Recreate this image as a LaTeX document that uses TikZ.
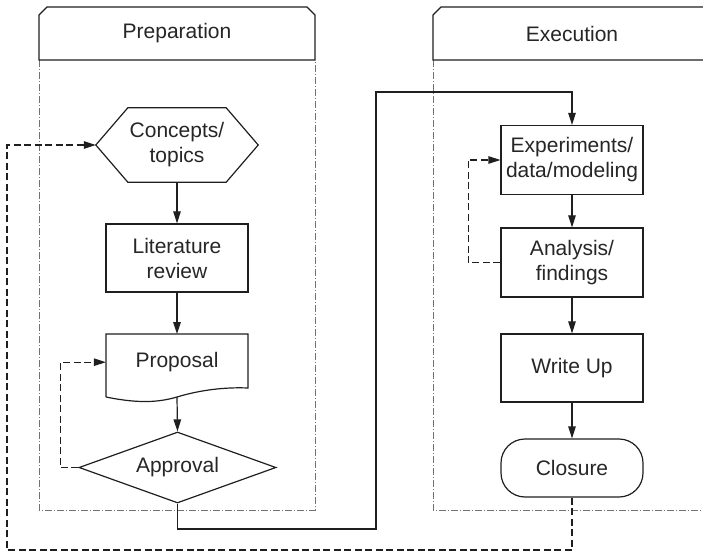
\documentclass[tikz,border=0pt]{standalone}
\usepackage{fontspec}
\setmainfont{Liberation Sans}
\usetikzlibrary{arrows.meta,shapes.geometric,calc}

\begin{document}
\begin{tikzpicture}[x=1pt,y=-1pt,
  ink/.style={draw=black!88, line width=1.2pt},
  txt/.style={font=\fontsize{21}{25}\selectfont, text=black!85, align=center, inner sep=0pt},
  procbox/.style={txt, ink, rectangle, minimum width=142pt, minimum height=68pt},
  flow/.style={draw=black!88, line width=1.2pt, -{Triangle[length=12pt,width=7.5pt]}},
  loop/.style={flow, dash pattern=on 7pt off 3.5pt},
  lane/.style={draw=black!55, line width=0.7pt, dash pattern=on 7pt off 2pt on 1pt off 2pt},
]
\useasboundingbox (0,0) rectangle (703,553);

% swimlanes
\draw[lane] (39,60) -- (39,510) -- (315,510) -- (315,60);
\draw[lane] (433,60) -- (433,510) -- (703,510);

% lane headers
\draw[ink, fill=white] (39,60) -- (39,15) -- (47,7) -- (307,7) -- (315,15) -- (315,60) -- cycle;
\node[txt] (prephead) at (177,33.5) {Preparation};
\fill[white] (433,60) -- (433,15) -- (441,7) -- (703,7) -- (703,60) -- cycle;
\draw[ink] (703,60) -- (433,60) -- (433,15) -- (441,7) -- (703,7);
\node[txt] (exechead) at (572,33.5) {Execution};

% preparation steps
\node[txt, minimum width=162pt, minimum height=74pt] (concepts) at (177,145) {Concepts/\\topics};
\draw[ink] (concepts.west) -- ([xshift=32pt]concepts.north west) -- ([xshift=-32pt]concepts.north east)
  -- (concepts.east) -- ([xshift=-32pt]concepts.south east) -- ([xshift=32pt]concepts.south west) -- cycle;

\node[procbox] (litrev) at (177,258) {Literature\\review};

\node[txt, minimum width=142pt, minimum height=56pt, anchor=north] (proposal) at (177,334) {Proposal};
\draw[ink] (106,397) -- (106,334) -- (248,334) -- (248,388)
  .. controls (225,387) and (200,390) .. (177,397)
  .. controls (160,402) and (140,404) .. (106,397);
\coordinate (propbot) at (177,397);

\node[txt, ink, diamond, aspect=2.8, minimum width=197pt, minimum height=71pt] (approval) at (177.5,467.5) {Approval};

% execution steps
\node[procbox, minimum height=69pt] (experiments) at (572,160) {Experiments/\\data/modeling};
\node[procbox, minimum height=69pt] (analysis) at (572,262.5) {Analysis/\\findings};
\node[procbox] (writeup) at (572,368) {Write Up};
\node[txt, ink, rectangle, rounded corners=24pt, minimum width=142pt, minimum height=58pt] (closure) at (572,468) {Closure};

% main flow
\draw[flow] (concepts.south) -- (litrev.north);
\draw[flow] (litrev.south) -- (proposal.north);
\draw[flow] (propbot) -- (approval.north);
\coordinate (hop1) at (376,529);
\coordinate (hop2) at (376,92);
\draw[flow] (approval.south) |- (hop1) -- (hop2) -| (experiments.north);
\draw[flow] (experiments.south) -- (analysis.north);
\draw[flow] (analysis.south) -- (writeup.north);
\draw[flow] (writeup.south) -- (closure.north);

% feedback loops
\draw[loop] (approval.west) -- ++(-18,0) |- (proposal.west);
\draw[loop] (analysis.west) -- ++(-32,0) |- (experiments.west);
\coordinate (back1) at (572,550);
\coordinate (back2) at (7,550);
\draw[loop] (closure.south) -- (back1) -- (back2) |- (concepts.west);
\end{tikzpicture}
\end{document}
